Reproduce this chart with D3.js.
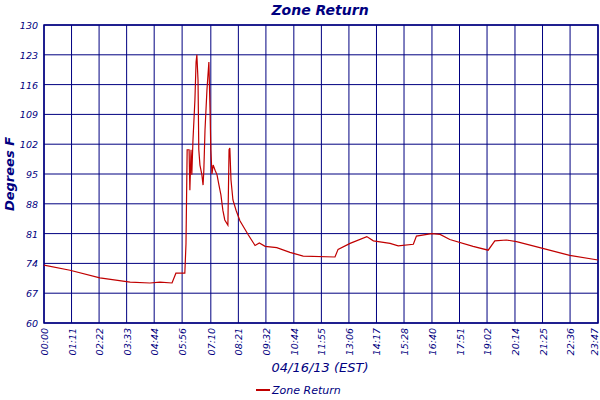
<!DOCTYPE html>
<html><head><meta charset="utf-8">
<script src="https://cdn.jsdelivr.net/npm/d3@7"></script>
<style>body{margin:0;background:#fff}</style></head>
<body><svg id="c" width="600" height="400"></svg>
<script>
const minutes=[0,67,144,222,273,299,330,340,363,366,369,374,376,379,381,384,389,392,394,397,399,402,407,410,412,415,420,425,428,430,433,436,441,446,451,456,461,466,474,477,479,482,487,495,505,526,544,555,570,600,634,668,750,758,789,832,849,892,913,952,960,999,1021,1046,1106,1145,1162,1192,1218,1278,1355,1428];
const temps=[73.6,72.4,70.6,69.6,69.4,69.6,69.4,71.7,71.7,78.6,100.7,100.7,91.2,100.7,94.8,103.0,112.4,121.3,123.0,117.1,100.7,97.1,94.8,92.4,95.9,105.3,114.7,121.3,110.0,100.7,95.0,97.1,95.9,94.8,92.4,90.1,86.5,84.2,83.0,100.7,101.1,93.6,88.9,86.5,84.0,80.8,78.2,78.8,78.0,77.7,76.6,75.7,75.5,77.3,78.7,80.3,79.3,78.7,78.1,78.5,80.4,81.0,80.8,79.6,78.0,77.1,79.3,79.5,79.1,77.7,75.9,74.8];
const yTicks=[60,67,74,81,88,95,102,109,116,123,130];
const xTickLabels=["00:00","01:11","02:22","03:33","04:44","05:56","07:10","08:21","09:32","10:44","11:55","13:06","14:17","15:28","16:40","17:51","19:02","20:14","21:25","22:36","23:47"];
const xTickMinutes=[0,71,142,213,284,356,430,501,572,644,715,786,857,928,1000,1071,1142,1214,1285,1356,1428];
const navy="#000080", red="#c00000", font="DejaVu Sans";
const svg=d3.select("#c");
const L=44,R=598,T=25,B=323;
const x=d3.scaleLinear().domain([0,1428]).range([L,R]);
const y=d3.scaleLinear().domain([60,130]).range([B,T]);
const g=svg.append("g");
g.selectAll(".v").data(xTickMinutes).join("line").attr("x1",d=>x(d)).attr("x2",d=>x(d)).attr("y1",T).attr("y2",B).attr("stroke",navy).attr("stroke-width",1);
g.selectAll(".h").data(yTicks).join("line").attr("x1",L).attr("x2",R).attr("y1",d=>y(d)).attr("y2",d=>y(d)).attr("stroke",navy).attr("stroke-width",1);
svg.append("rect").attr("x",L).attr("y",T).attr("width",R-L).attr("height",B-T).attr("fill","none").attr("stroke",navy).attr("stroke-width",1.5);
svg.selectAll(".yl").data(yTicks).join("text").attr("x",L-6).attr("y",d=>y(d)+4).attr("text-anchor","end")
 .attr("font-family",font).attr("font-style","italic").attr("font-size",9.5).attr("fill",navy).text(d=>d);
svg.selectAll(".xl").data(xTickMinutes).join("text")
 .attr("transform",d=>`translate(${Math.min(x(d)+4,598)},${B+5}) rotate(-90)`).attr("text-anchor","end")
 .attr("font-family",font).attr("font-style","italic").attr("font-size",9.5).attr("fill",navy).text((d,i)=>xTickLabels[i]);
const line=d3.line().x((d,i)=>x(minutes[i])).y(d=>y(d));
svg.append("path").attr("d",line(temps)).attr("fill","none").attr("stroke",red).attr("stroke-width",1.2);
svg.append("text").attr("x",320).attr("y",15).attr("text-anchor","middle").attr("font-family",font).attr("font-style","italic").attr("font-weight","bold").attr("font-size",14).attr("fill",navy).text("Zone Return");
svg.append("text").attr("transform","translate(14,174) rotate(-90)").attr("text-anchor","middle").attr("font-family",font).attr("font-style","italic").attr("font-weight","bold").attr("font-size",13).attr("fill",navy).text("Degrees F");
svg.append("text").attr("x",320).attr("y",372).attr("text-anchor","middle").attr("font-family",font).attr("font-style","italic").attr("font-size",13).attr("fill",navy).text("04/16/13 (EST)");
svg.append("line").attr("x1",256).attr("x2",270).attr("y1",390).attr("y2",390).attr("stroke",red).attr("stroke-width",2);
svg.append("text").attr("x",272).attr("y",394).attr("font-family",font).attr("font-style","italic").attr("font-size",11).attr("fill",navy).text("Zone Return");
</script></body></html>
